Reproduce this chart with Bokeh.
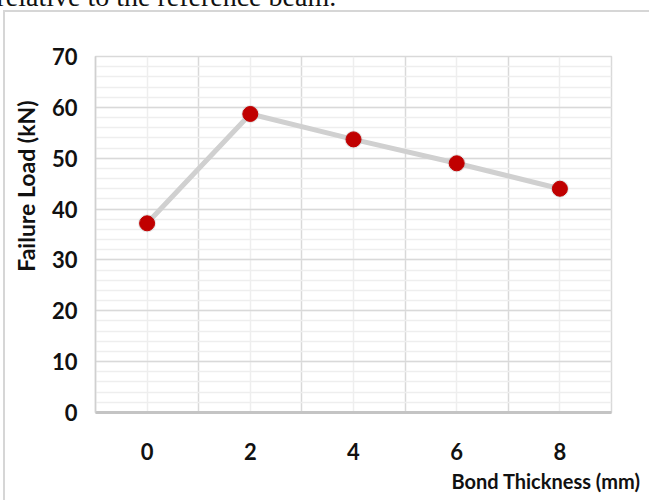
from bokeh.plotting import figure
from bokeh.models import FixedTicker, Range1d, Label, Title
from bokeh.embed import file_html
from bokeh.resources import INLINE

# ---- data ----
thickness = [0, 2, 4, 6, 8]
failure_load = [37.2, 58.7, 53.7, 49.0, 44.0]
x_ticks = [0, 2, 4, 6, 8]
y_ticks = [0, 10, 20, 30, 40, 50, 60, 70]
x_label = "Bond Thickness (mm)"
y_label = "Failure Load (kN)"
caption = "relative to the reference beam."

FONT = "'Liberation Sans Narrow', 'Lato', sans-serif"

p = figure(width=649, height=500, output_backend="svg", toolbar_location=None,
           x_range=Range1d(-1, 9), y_range=Range1d(0, 70),
           min_border_left=95, min_border_right=38,
           min_border_top=56, min_border_bottom=88)
p.background_fill_color = "white"
p.border_fill_color = None
# outer chart box (light grey L-shaped frame at left/top, as in the cropped screenshot)
p.styles = {"background-color": "white",
            "box-shadow": "inset 3px 10px 0 0 white, inset 5px 12px 0 0 #d6d6d6"}
p.outline_line_color = "#d9d9d9"
p.outline_line_width = 1.5

# axes
for ax in (p.xaxis, p.yaxis):
    ax.major_tick_line_color = None
    ax.minor_tick_line_color = None
    ax.major_tick_out = 0
    ax.major_label_text_font = FONT
    ax.major_label_text_font_style = "bold"
    ax.major_label_text_font_size = "22px"
    ax.major_label_text_color = "#111111"
p.xaxis.ticker = FixedTicker(ticks=x_ticks)
p.yaxis.ticker = FixedTicker(ticks=y_ticks)
p.xaxis.axis_line_color = "#c4c4c4"
p.xaxis.axis_line_width = 3
p.yaxis.axis_line_color = "#d0d0d0"
p.yaxis.axis_line_width = 1.5
p.xaxis.major_label_standoff = 30
p.yaxis.major_label_standoff = 18

# grids
p.xgrid.ticker = FixedTicker(ticks=[-1, 1, 3, 5, 7, 9], minor_ticks=x_ticks)
p.xgrid.grid_line_color = "#d9d9d9"
p.xgrid.grid_line_width = 1.5
p.xgrid.minor_grid_line_color = "#eeeeee"
p.xgrid.minor_grid_line_width = 1.5
p.ygrid.ticker = FixedTicker(ticks=y_ticks, minor_ticks=list(range(0, 71, 2)))
p.ygrid.grid_line_color = "#d9d9d9"
p.ygrid.grid_line_width = 1.5
p.ygrid.minor_grid_line_color = "#eeeeee"
p.ygrid.minor_grid_line_width = 1.5

# series
p.line(thickness, failure_load, line_color="#d0d0d0", line_width=5)
p.scatter(thickness, failure_load, size=18, fill_color="#bbbbbb", line_color=None, fill_alpha=0.35)
p.scatter(thickness, failure_load, size=15, fill_color="#c00000", line_color="#c00000")

# axis titles
p.add_layout(Title(text=y_label, align="right", offset=44, standoff=18,
                   vertical_align="bottom",
                   text_font=FONT, text_font_style="bold", text_font_size="23px",
                   text_color="#111111"), "left")
p.add_layout(Title(text=x_label, align="right", offset=-29, standoff=12,
                   vertical_align="top",
                   text_font=FONT, text_font_style="bold", text_font_size="20px",
                   text_color="#111111"), "below")

# clipped caption at the top (side panel, not clipped to the frame)
p.add_layout(Label(x=-99, y=60, x_units="screen", y_units="screen", text=caption,
                   text_align="left", text_baseline="alphabetic",
                   text_font="'Liberation Serif', serif", text_font_size="28px",
                   text_color="#111111"), "above")

open("out.html", "w").write(file_html(p, INLINE))
